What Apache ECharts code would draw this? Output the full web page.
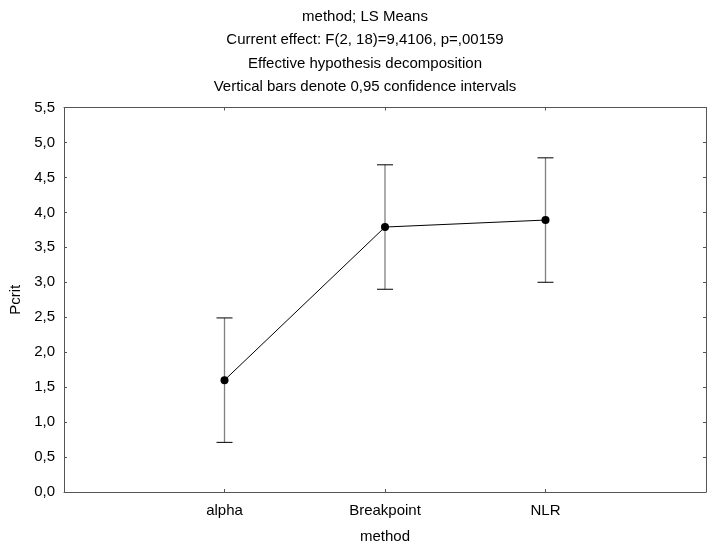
<!DOCTYPE html>
<html>
<head>
<meta charset="utf-8">
<script src="https://cdn.jsdelivr.net/npm/echarts@6/dist/echarts.min.js"></script>
<style>html,body{margin:0;padding:0;background:#fff}#c{width:709px;height:552px}</style>
</head>
<body>
<div id="c"></div>
<script>
var categories = ['alpha', 'Breakpoint', 'NLR'];
var means = [1.60, 3.79, 3.89];
var lower = [0.71, 2.90, 3.00];
var upper = [2.49, 4.68, 4.78];
var titleLines = ['method; LS Means', 'Current effect: F(2, 18)=9,4106, p=,00159', 'Effective hypothesis decomposition', 'Vertical bars denote 0,95 confidence intervals'];

var FONT = '"Liberation Sans", Arial, sans-serif';
var meanData = categories.map(function (c, i) { return [i + 1, means[i]]; });
var errData = categories.map(function (c, i) { return [i + 1, lower[i], upper[i]]; });

var chart = echarts.init(document.getElementById('c'), null, {renderer: 'canvas'});
var axisLine = {show: true, onZero: false, lineStyle: {color: '#555', width: 1}};
var tick = {show: true, inside: true, length: 3, lineStyle: {color: '#555'}};
chart.setOption({
  animation: false,
  title: {
    text: titleLines.join('\n'),
    left: 360, top: 0, textAlign: 'center',
    textStyle: {fontFamily: FONT, fontSize: 15, fontWeight: 'normal', color: '#000', lineHeight: 23.5}
  },
  grid: {left: 63, right: 2, top: 107.5, bottom: 60, show: false},
  xAxis: [{
    type: 'value', min: 0, max: 4, interval: 1, position: 'bottom',
    name: 'method', nameLocation: 'middle', nameGap: 37.5,
    nameTextStyle: {fontFamily: FONT, fontSize: 15, color: '#000'},
    axisLine: axisLine, axisTick: tick, splitLine: {show: false},
    axisLabel: {margin: 11.5, fontFamily: FONT, fontSize: 15, color: '#000', showMinLabel: true, showMaxLabel: true,
      formatter: function (v) { return categories[v - 1] || ''; }}
  }, {
    type: 'value', min: 0, max: 4, interval: 1, position: 'top',
    axisLine: axisLine, axisTick: tick, splitLine: {show: false}, axisLabel: {show: false}
  }],
  yAxis: [{
    type: 'value', min: 0, max: 5.5, interval: 0.5, position: 'left',
    name: 'Pcrit', nameLocation: 'middle', nameGap: 41,
    nameTextStyle: {fontFamily: FONT, fontSize: 15, color: '#000'},
    axisLine: axisLine, axisTick: tick, splitLine: {show: false},
    axisLabel: {margin: 9, fontFamily: FONT, fontSize: 15, color: '#000',
      formatter: function (v) { return v.toFixed(1).replace('.', ','); }}
  }, {
    type: 'value', min: 0, max: 5.5, interval: 0.5, position: 'right',
    axisLine: axisLine, axisTick: tick, splitLine: {show: false}, axisLabel: {show: false}
  }],
  series: [{
    type: 'custom',
    data: errData,
    z: 1,
    renderItem: function (params, api) {
      var x = api.value(0);
      var lo = api.coord([x, api.value(1)]);
      var hi = api.coord([x, api.value(2)]);
      var hw = 8;
      var style = {stroke: '#808080', lineWidth: 1.3, fill: null};
      return {type: 'group', children: [
        {type: 'line', shape: {x1: lo[0], y1: lo[1], x2: hi[0], y2: hi[1]}, style: style},
        {type: 'line', shape: {x1: lo[0] - hw, y1: lo[1], x2: lo[0] + hw, y2: lo[1]}, style: {stroke: '#000', lineWidth: 1}},
        {type: 'line', shape: {x1: hi[0] - hw, y1: hi[1], x2: hi[0] + hw, y2: hi[1]}, style: {stroke: '#000', lineWidth: 1}}
      ]};
    }
  }, {
    type: 'line',
    data: meanData,
    z: 3,
    symbol: 'circle', symbolSize: 8,
    itemStyle: {color: '#000'},
    lineStyle: {color: '#000', width: 1}
  }]
});
</script>
</body>
</html>
